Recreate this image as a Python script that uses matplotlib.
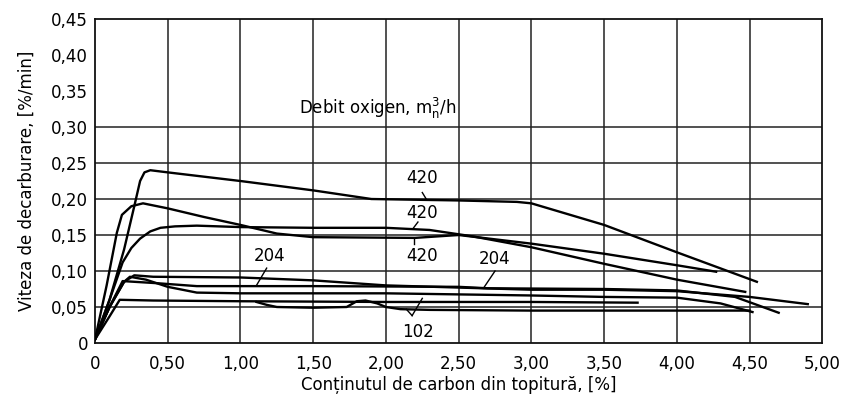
import matplotlib
matplotlib.use("Agg")
import matplotlib.pyplot as plt

plt.rcParams['font.family'] = ['DejaVu Sans']

# Decarburization rate vs. carbon content, for several oxygen flow rates
# 420 m3/h - upper curve
a_x = [0.0, 0.1, 0.2, 0.27, 0.31, 0.34, 0.38, 0.5, 1.0, 1.5, 1.9, 2.5, 2.9, 3.0, 3.5, 4.0, 4.55]
a_y = [0.005, 0.06, 0.13, 0.19, 0.225, 0.237, 0.240, 0.237, 0.225, 0.212, 0.200, 0.198, 0.196, 0.194, 0.164, 0.126, 0.085]
# 420 m3/h - middle curve
b_x = [0.0, 0.08, 0.15, 0.185, 0.25, 0.33, 0.5, 0.75, 1.0, 1.25, 1.5, 2.2, 2.5, 3.0, 3.5, 4.0, 4.27]
b_y = [0.005, 0.08, 0.153, 0.178, 0.190, 0.194, 0.187, 0.175, 0.164, 0.152, 0.147, 0.146, 0.150, 0.138, 0.124, 0.108, 0.099]
# 420 m3/h - lower curve
c_x = [0.0, 0.1, 0.19, 0.25, 0.31, 0.38, 0.45, 0.55, 0.7, 1.0, 1.5, 2.0, 2.3, 2.6, 3.0, 3.5, 4.0, 4.47]
c_y = [0.005, 0.06, 0.112, 0.132, 0.145, 0.155, 0.160, 0.162, 0.163, 0.161, 0.160, 0.160, 0.157, 0.148, 0.133, 0.110, 0.088, 0.071]
# 204 m3/h - upper curve
d_x = [0.0, 0.1, 0.2, 0.27, 0.4, 1.0, 1.5, 2.0, 2.5, 3.0, 3.5, 4.0, 4.5, 4.9]
d_y = [0.005, 0.05, 0.085, 0.094, 0.092, 0.091, 0.087, 0.080, 0.077, 0.074, 0.074, 0.072, 0.064, 0.054]
# 204 m3/h - lower curve
e_x = [0.0, 0.1, 0.19, 0.43, 0.7, 1.5, 2.5, 2.7, 3.5, 4.0, 4.4, 4.7]
e_y = [0.005, 0.05, 0.086, 0.083, 0.079, 0.079, 0.078, 0.076, 0.075, 0.073, 0.064, 0.042]
# intermediate curve
f_x = [0.0, 0.1, 0.2, 0.24, 0.35, 0.5, 0.7, 1.0, 2.0, 3.0, 3.5, 4.0, 4.3, 4.52]
f_y = [0.005, 0.05, 0.085, 0.092, 0.088, 0.078, 0.070, 0.069, 0.069, 0.066, 0.064, 0.063, 0.055, 0.043]
# 102 m3/h - flat curve
g_x = [0.0, 0.1, 0.17, 0.4, 1.0, 2.0, 3.0, 3.73]
g_y = [0.005, 0.037, 0.060, 0.059, 0.058, 0.057, 0.057, 0.056]
# 102 m3/h - curve with irregularities
h_x = [1.11, 1.18, 1.25, 1.5, 1.73, 1.80, 1.86, 1.94, 2.0, 2.1, 2.3, 3.0, 3.5, 4.0, 4.5]
h_y = [0.057, 0.053, 0.050, 0.049, 0.050, 0.058, 0.059, 0.055, 0.050, 0.047, 0.046, 0.045, 0.045, 0.045, 0.045]

curves = [(a_x, a_y), (b_x, b_y), (c_x, c_y), (d_x, d_y),
          (e_x, e_y), (f_x, f_y), (g_x, g_y), (h_x, h_y)]

x_ticks = [0, 0.5, 1.0, 1.5, 2.0, 2.5, 3.0, 3.5, 4.0, 4.5, 5.0]
x_labels = ["0", "0,50", "1,00", "1,50", "2,00", "2,50", "3,00", "3,50", "4,00", "4,50", "5,00"]
y_ticks = [0, 0.05, 0.10, 0.15, 0.20, 0.25, 0.30, 0.35, 0.40, 0.45]
y_labels = ["0", "0,05", "0,10", "0,15", "0,20", "0,25", "0,30", "0,35", "0,40", "0,45"]

# curve labels: text, text position, pointer start, pointer end
labels = [
    ("420", (2.25, 0.229), (2.25, 0.209), (2.28, 0.199)),
    ("420", (2.25, 0.181), (2.22, 0.168), (2.19, 0.160)),
    ("420", (2.25, 0.121), (2.19, 0.146), (2.19, 0.137)),
    ("204", (1.20, 0.121), (1.18, 0.104), (1.11, 0.080)),
    ("204", (2.75, 0.116), (2.75, 0.100), (2.67, 0.076)),
    ("102", (2.22, 0.015), (2.18, 0.038), (2.25, 0.062)),
]

fs = 12

fig = plt.figure(figsize=(8.46, 4.05), dpi=100)
ax = fig.add_axes([0.1123, 0.1531, 0.8597, 0.7999])

ax.set_xlim(0, 5.0)
ax.set_ylim(0, 0.45)

for xv in x_ticks[1:-1]:
    ax.axvline(xv, color='#222222', lw=1.1, zorder=1)
for yv in y_ticks[1:7]:
    ax.axhline(yv, color='#222222', lw=1.1, zorder=1)

for xs, ys in curves:
    ax.plot(xs, ys, color='black', lw=1.7, solid_joinstyle='round', zorder=3)

for txt, tpos, p0, p1 in labels:
    ax.text(tpos[0], tpos[1], txt, ha='center', va='center', fontsize=fs, zorder=4)
    ax.plot([p0[0], p1[0]], [p0[1], p1[1]], color='black', lw=1.0, zorder=4)
ax.plot([2.14, 2.18], [0.047, 0.038], color='black', lw=1.0, zorder=4)

ax.text(1.40, 0.326, r"Debit oxigen, m$_\mathregular{n}^\mathregular{3}$/h",
        ha='left', va='center', fontsize=fs)

ax.set_xticks(x_ticks)
ax.set_xticklabels(x_labels)
ax.set_yticks(y_ticks)
ax.set_yticklabels(y_labels)
ax.tick_params(axis='x', length=0, labelsize=fs, pad=9)
ax.tick_params(axis='y', length=0, labelsize=fs, pad=5)

for sp in ax.spines.values():
    sp.set_linewidth(1.3)
    sp.set_color('#111111')

ax.set_xlabel("Conținutul de carbon din topitură, [%]", fontsize=fs, labelpad=2)
ax.set_ylabel("Viteza de decarburare, [%/min]", fontsize=fs, labelpad=11)

fig.savefig("out.png", dpi=100)
